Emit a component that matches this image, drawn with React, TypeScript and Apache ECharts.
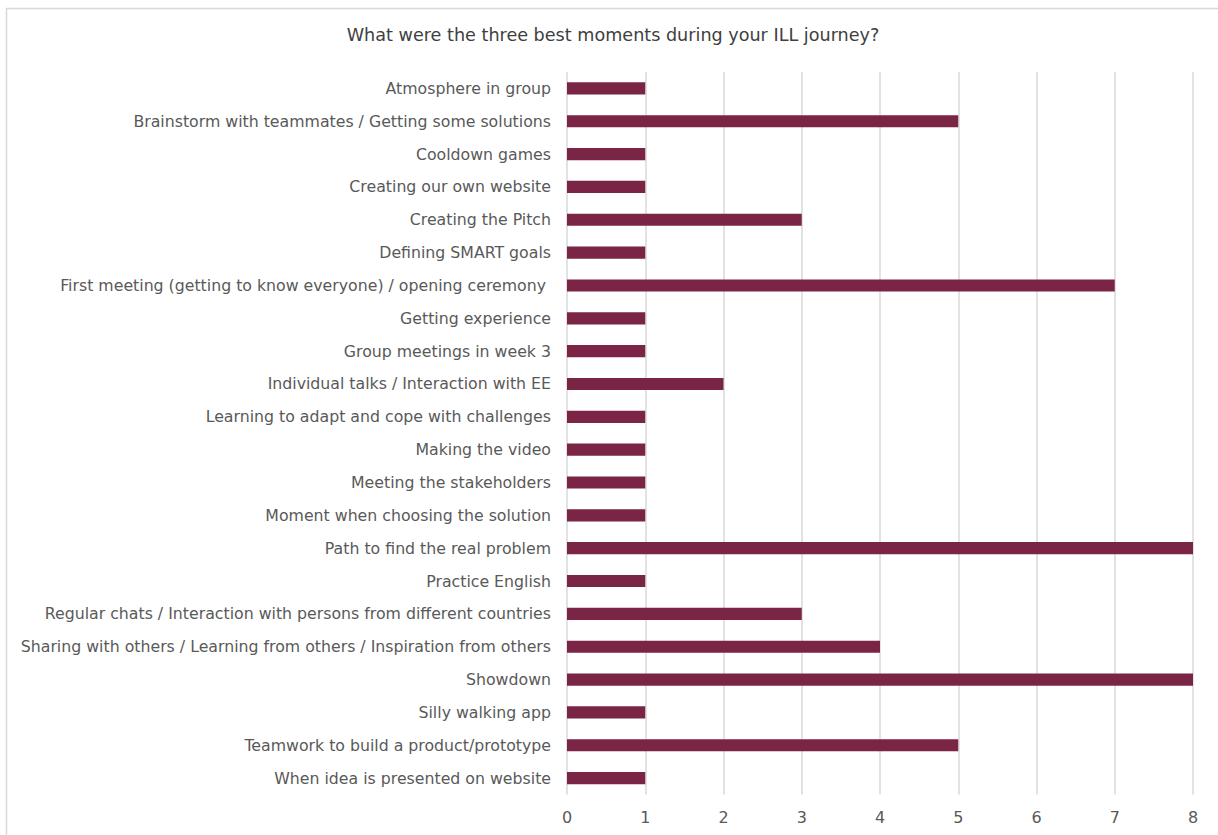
import React, { useEffect, useRef } from "react";
import * as echarts from "echarts";

const title = "What were the three best moments during your ILL journey?";

const categories = [
  "Atmosphere in group",
  "Brainstorm with teammates / Getting some solutions",
  "Cooldown games",
  "Creating our own website",
  "Creating the Pitch",
  "Defining SMART goals",
  "First meeting (getting to know everyone) / opening ceremony ",
  "Getting experience",
  "Group meetings in week 3",
  "Individual talks / Interaction with EE",
  "Learning to adapt and cope with challenges",
  "Making the video",
  "Meeting the stakeholders",
  "Moment when choosing the solution",
  "Path to find the real problem",
  "Practice English",
  "Regular chats / Interaction with persons from different countries",
  "Sharing with others / Learning from others / Inspiration from others",
  "Showdown",
  "Silly walking app",
  "Teamwork to build a product/prototype",
  "When idea is presented on website",
];

const counts = [1, 5, 1, 1, 3, 1, 7, 1, 1, 2, 1, 1, 1, 1, 8, 1, 3, 4, 8, 1, 5, 1];

const FONT = "'DejaVu Sans', Verdana, sans-serif";

export default function App() {
  const ref = useRef<HTMLDivElement>(null);

  useEffect(() => {
    if (!ref.current) return;
    const chart = echarts.init(ref.current, undefined, { renderer: "svg" });
    chart.setOption({
      animation: false,
      backgroundColor: "#ffffff",
      graphic: [
        {
          type: "rect",
          shape: { x: 6.5, y: 8.5, width: 1400, height: 1000 },
          style: { fill: "none", stroke: "#d9d9d9", lineWidth: 1.5 },
          silent: true,
        },
        {
          type: "text",
          x: 613,
          y: 35,
          style: {
            text: title,
            align: "center",
            verticalAlign: "middle",
            fontFamily: FONT,
            fontSize: 17.6,
            fill: "#404040",
          },
          silent: true,
        },
      ],
      grid: { left: 567, right: 25, top: 72, bottom: 40.5 },
      xAxis: {
        type: "value",
        min: 0,
        max: 8,
        interval: 1,
        axisLine: { show: false },
        axisTick: { show: false },
        axisLabel: { fontFamily: FONT, fontSize: 16, color: "#595959", margin: 15 },
        splitLine: { show: true, lineStyle: { color: "#d9d9d9", width: 1.5 } },
      },
      yAxis: {
        type: "category",
        inverse: true,
        data: categories,
        axisLine: { show: false },
        axisTick: { show: false },
        axisLabel: { fontFamily: FONT, fontSize: 15.75, color: "#595959", margin: 16 },
      },
      series: [
        {
          type: "bar",
          data: counts,
          barWidth: "37%",
          itemStyle: { color: "#7a2446" },
        },
      ],
    });
    return () => chart.dispose();
  }, []);

  return (
    <div
      ref={ref}
      style={{ position: "absolute", left: 0, top: 0, width: 1218, height: 835 }}
    />
  );
}
